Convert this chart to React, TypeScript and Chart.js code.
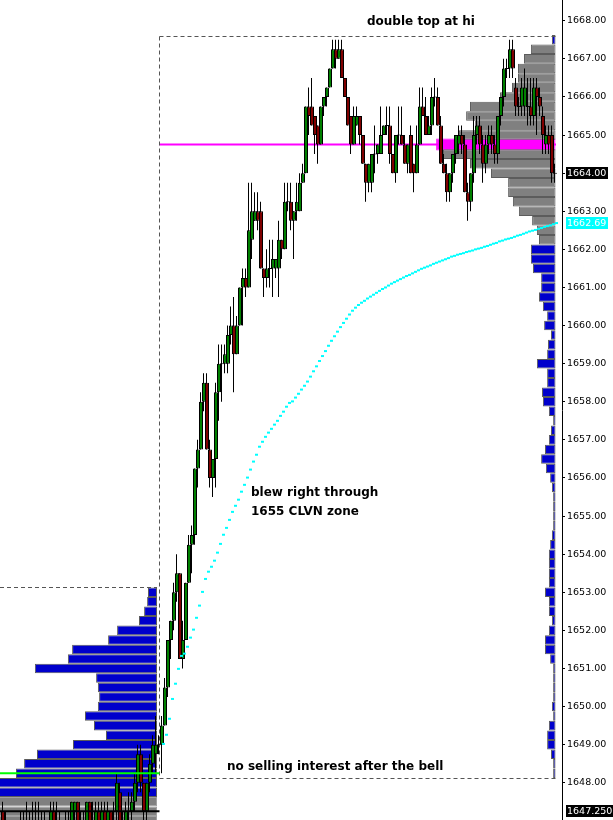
import { useEffect, useRef } from 'react';
import { Chart, registerables } from 'chart.js';

Chart.register(...registerables);

// ---------- data ----------
// time slots: one candle per slot, first candle sits at slot FIRST_SLOT
const FIRST_SLOT = -53;
// [open, high, low, close]
const CANDLES: [number, number, number, number][] = [
  [1647.25, 1647.5, 1646.75, 1647.0], [1647.0, 1647.25, 1646.5, 1646.75], [1646.75, 1647.0, 1646.5, 1646.75],
  [1646.75, 1647.0, 1646.5, 1646.5], [1646.5, 1647.0, 1646.25, 1646.75], [1646.75, 1647.0, 1646.5, 1646.75],
  [1646.75, 1647.25, 1646.5, 1647.0], [1647.0, 1647.25, 1646.75, 1646.75], [1646.75, 1647.5, 1646.5, 1647.0],
  [1647.0, 1647.25, 1646.75, 1646.75], [1646.75, 1647.5, 1646.5, 1647.0], [1647.0, 1647.5, 1646.75, 1646.75],
  [1646.75, 1647.5, 1646.5, 1647.0], [1647.0, 1647.25, 1646.75, 1647.0], [1647.0, 1647.25, 1646.5, 1646.75],
  [1646.75, 1647.0, 1646.5, 1646.75], [1646.75, 1647.5, 1646.5, 1647.25], [1647.25, 1647.5, 1646.75, 1647.0],
  [1647.0, 1647.5, 1646.75, 1647.0], [1647.0, 1647.25, 1646.75, 1646.75], [1646.75, 1647.0, 1646.5, 1646.75],
  [1646.75, 1647.25, 1646.5, 1647.0], [1647.0, 1647.25, 1646.75, 1647.0], [1646.75, 1647.5, 1646.5, 1647.5],
  [1647.25, 1647.5, 1647.0, 1647.5], [1647.5, 1647.5, 1647.0, 1647.0], [1647.0, 1647.25, 1646.75, 1647.0],
  [1647.0, 1647.25, 1646.75, 1647.0], [1647.0, 1647.5, 1646.75, 1647.5], [1647.5, 1647.5, 1646.75, 1647.0],
  [1647.0, 1647.5, 1646.75, 1647.0], [1647.0, 1647.5, 1646.75, 1647.25], [1647.25, 1647.5, 1646.75, 1647.0],
  [1647.0, 1647.5, 1646.75, 1647.25], [1647.25, 1647.5, 1646.75, 1647.0], [1647.0, 1647.5, 1646.75, 1647.25],
  [1647.25, 1647.25, 1646.75, 1647.0], [1647.0, 1647.5, 1646.75, 1647.0], [1647.25, 1648.25, 1647.0, 1648.0],
  [1647.75, 1648.0, 1646.75, 1647.0], [1647.0, 1647.25, 1646.75, 1647.0], [1647.0, 1647.5, 1646.75, 1647.25],
  [1647.25, 1647.75, 1647.0, 1647.25], [1647.25, 1647.75, 1647.0, 1647.5], [1647.5, 1648.25, 1647.25, 1648.0],
  [1648.0, 1649.0, 1647.75, 1648.75], [1648.75, 1649.0, 1647.75, 1648.0], [1648.0, 1648.0, 1647.0, 1647.25],
  [1647.25, 1648.0, 1647.0, 1648.0], [1648.0, 1648.75, 1647.75, 1648.5], [1648.5, 1649.25, 1648.25, 1649.0],
  [1648.75, 1649.75, 1648.25, 1649.0], [1649.0, 1649.25, 1648.75, 1649.0],
  // session
  [1649.0, 1649.75, 1648.25, 1649.5], [1649.5, 1650.75, 1649.5, 1650.5], [1650.5, 1651.75, 1650.25, 1651.75],
  [1651.75, 1652.25, 1651.25, 1652.25], [1652.25, 1653.25, 1652.0, 1653.0], [1653.0, 1654.0, 1652.75, 1653.5],
  [1653.5, 1653.5, 1651.25, 1651.25], [1651.25, 1652.25, 1651.0, 1651.75], [1651.75, 1653.25, 1651.75, 1653.25],
  [1653.25, 1654.5, 1653.25, 1654.25], [1654.25, 1654.75, 1653.5, 1654.5], [1654.5, 1656.25, 1654.25, 1656.25],
  [1656.25, 1657.0, 1655.75, 1656.75], [1656.75, 1658.25, 1656.75, 1658.0], [1658.0, 1658.75, 1657.75, 1658.5],
  [1658.5, 1658.75, 1656.75, 1656.75], [1656.75, 1657.0, 1655.75, 1656.0], [1656.0, 1656.5, 1655.5, 1656.5],
  [1656.5, 1658.5, 1655.75, 1658.25], [1658.25, 1659.5, 1657.5, 1659.0], [1659.0, 1659.5, 1658.0, 1659.0],
  [1659.0, 1659.5, 1658.75, 1659.25], [1659.0, 1660.0, 1658.75, 1659.75], [1659.75, 1660.5, 1659.5, 1660.0],
  [1660.0, 1660.75, 1658.25, 1659.25], [1659.25, 1660.25, 1659.25, 1660.0], [1660.0, 1661.0, 1660.0, 1661.0],
  [1661.0, 1661.5, 1660.0, 1661.25], [1661.25, 1661.5, 1660.75, 1661.0], [1661.0, 1663.75, 1661.0, 1662.5],
  [1662.25, 1663.75, 1661.75, 1663.0], [1662.75, 1663.5, 1662.75, 1663.0], [1663.0, 1663.5, 1662.5, 1662.75],
  [1663.0, 1663.25, 1661.5, 1661.5], [1661.5, 1661.5, 1660.75, 1661.25], [1661.25, 1662.0, 1661.0, 1661.5],
  [1661.5, 1662.25, 1661.0, 1661.5], [1661.5, 1662.25, 1660.75, 1661.75], [1661.5, 1661.75, 1661.25, 1661.75],
  [1661.5, 1662.75, 1660.75, 1662.25], [1662.25, 1662.25, 1661.75, 1662.0], [1662.0, 1663.75, 1662.0, 1663.25],
  [1663.25, 1663.75, 1663.0, 1663.25], [1663.25, 1663.75, 1662.5, 1662.75], [1662.75, 1663.0, 1661.75, 1663.0],
  [1663.0, 1663.75, 1662.75, 1663.25], [1663.0, 1664.0, 1663.0, 1663.75], [1663.75, 1664.25, 1663.75, 1664.0],
  [1664.0, 1665.75, 1664.0, 1665.75], [1665.75, 1666.25, 1665.0, 1665.5], [1665.75, 1666.5, 1665.25, 1665.25],
  [1665.5, 1665.5, 1664.5, 1665.0], [1665.25, 1665.25, 1664.25, 1664.75], [1664.75, 1665.75, 1664.75, 1665.75],
  [1665.75, 1666.0, 1665.5, 1666.0], [1666.0, 1666.25, 1665.75, 1666.25], [1666.25, 1666.75, 1666.25, 1666.75],
  [1666.75, 1667.5, 1666.75, 1667.25], [1667.25, 1667.5, 1666.75, 1667.0], [1667.0, 1667.5, 1667.0, 1667.25],
  [1667.25, 1667.5, 1666.5, 1666.5], [1666.5, 1666.5, 1666.0, 1666.0], [1666.0, 1666.0, 1665.25, 1665.25],
  [1665.5, 1665.5, 1664.5, 1664.75], [1664.75, 1665.75, 1664.75, 1665.5], [1665.25, 1665.75, 1665.25, 1665.5],
  [1665.5, 1665.5, 1664.75, 1665.0], [1665.0, 1665.0, 1664.25, 1664.25], [1664.25, 1664.25, 1663.25, 1663.75],
  [1663.75, 1664.25, 1663.5, 1664.25], [1663.75, 1664.5, 1663.5, 1664.5], [1664.5, 1665.25, 1664.0, 1664.5],
  [1664.5, 1664.75, 1664.25, 1664.75], [1664.5, 1665.75, 1664.5, 1665.0], [1665.0, 1665.25, 1665.0, 1665.25],
  [1665.25, 1665.75, 1665.0, 1665.25], [1665.25, 1665.75, 1664.25, 1664.5], [1664.5, 1664.5, 1664.0, 1664.0],
  [1664.0, 1665.0, 1663.75, 1665.0], [1665.0, 1665.75, 1664.75, 1665.0], [1665.0, 1665.75, 1664.75, 1664.75],
  [1664.75, 1665.0, 1664.25, 1664.25], [1664.25, 1664.75, 1664.0, 1664.75], [1665.0, 1665.25, 1664.0, 1664.0],
  [1664.25, 1664.25, 1663.5, 1664.0], [1664.0, 1665.25, 1664.0, 1664.75], [1664.75, 1666.25, 1664.75, 1665.75],
  [1665.75, 1666.25, 1665.5, 1665.5], [1665.5, 1666.0, 1665.0, 1665.0], [1665.0, 1665.5, 1665.0, 1665.25],
  [1665.25, 1666.25, 1665.0, 1666.0], [1666.0, 1666.5, 1665.75, 1666.0], [1666.0, 1666.25, 1665.25, 1665.25],
  [1665.25, 1665.5, 1664.25, 1664.25], [1664.25, 1664.5, 1664.0, 1664.0], [1664.0, 1664.25, 1663.25, 1663.5],
  [1663.5, 1664.0, 1663.25, 1664.0], [1664.0, 1664.5, 1663.75, 1664.5], [1664.5, 1665.0, 1664.25, 1665.0],
  [1664.75, 1665.25, 1664.5, 1665.0], [1665.0, 1665.25, 1664.5, 1664.75], [1664.75, 1665.0, 1663.5, 1663.5],
  [1663.5, 1663.75, 1662.75, 1663.25], [1663.25, 1664.0, 1663.0, 1664.0], [1664.0, 1665.5, 1663.75, 1665.0],
  [1665.0, 1665.5, 1664.75, 1665.25], [1665.25, 1665.5, 1664.5, 1664.75], [1664.75, 1665.0, 1663.75, 1664.25],
  [1664.25, 1665.0, 1664.0, 1664.75], [1664.75, 1665.25, 1664.5, 1665.0], [1665.0, 1665.25, 1664.5, 1664.75],
  [1664.75, 1665.0, 1664.25, 1664.5], [1664.5, 1665.5, 1664.25, 1665.5], [1665.5, 1666.0, 1665.25, 1666.0],
  [1666.0, 1667.0, 1665.75, 1666.75], [1666.75, 1667.0, 1666.5, 1666.75], [1666.75, 1667.5, 1666.5, 1667.25],
  [1667.25, 1667.5, 1666.5, 1666.75], [1666.25, 1666.5, 1665.5, 1665.75], [1665.75, 1666.0, 1665.5, 1665.75],
  [1665.75, 1666.5, 1665.5, 1666.25], [1665.75, 1666.75, 1665.5, 1666.25], [1665.75, 1666.5, 1665.25, 1665.75],
  [1665.75, 1666.5, 1665.25, 1665.5], [1665.5, 1666.5, 1665.25, 1666.25], [1666.25, 1666.5, 1665.0, 1666.0],
  [1666.0, 1666.25, 1665.5, 1665.75], [1665.5, 1665.75, 1664.5, 1665.0], [1664.75, 1665.25, 1664.5, 1665.0],
  [1665.0, 1665.25, 1664.5, 1664.75], [1665.0, 1665.25, 1663.75, 1664.0], [1664.0, 1664.25, 1663.75, 1664.0],
];

// session VWAP, one value per session candle starting at slot 0
const VWAP_FIRST_SLOT = 0;
const VWAP = [
  1649.02, 1649.26, 1649.68, 1650.2, 1650.6, 1650.99, 1651.33, 1651.39, 1651.57, 1651.81,
  1652.02, 1652.33, 1652.65, 1653.01, 1653.35, 1653.54, 1653.67, 1653.83, 1654.04, 1654.27,
  1654.51, 1654.69, 1654.9, 1655.11, 1655.27, 1655.43, 1655.64, 1655.82, 1656.01, 1656.22,
  1656.43, 1656.61, 1656.82, 1656.95, 1657.08, 1657.19, 1657.29, 1657.4, 1657.5, 1657.63,
  1657.74, 1657.87, 1657.97, 1658.01, 1658.11, 1658.21, 1658.32, 1658.42, 1658.53, 1658.66,
  1658.8, 1658.93, 1659.07, 1659.2, 1659.33, 1659.47, 1659.6, 1659.72, 1659.84, 1659.96,
  1660.07, 1660.18, 1660.29, 1660.39, 1660.47, 1660.54, 1660.6, 1660.65, 1660.71, 1660.76,
  1660.81, 1660.86, 1660.91, 1660.96, 1661.0, 1661.05, 1661.1, 1661.14, 1661.18, 1661.22,
  1661.26, 1661.3, 1661.33, 1661.37, 1661.41, 1661.45, 1661.49, 1661.52, 1661.55, 1661.58,
  1661.62, 1661.65, 1661.68, 1661.71, 1661.74, 1661.77, 1661.81, 1661.83, 1661.86, 1661.88,
  1661.9, 1661.93, 1661.95, 1661.97, 1662.0, 1662.02, 1662.04, 1662.07, 1662.09, 1662.12,
  1662.15, 1662.17, 1662.21, 1662.23, 1662.26, 1662.28, 1662.3, 1662.33, 1662.36, 1662.38,
  1662.41, 1662.44, 1662.47, 1662.49, 1662.51, 1662.54, 1662.56, 1662.59, 1662.61, 1662.63,
  1662.66, 1662.69,
];

// volume profiles: [price, volume]
const RIGHT_VALUE_AREA: [number, number][] = [
  [1667.25, 8.2], [1667.0, 10.5], [1666.75, 12.5], [1666.5, 12.5], [1666.25, 14.5], [1666.0, 18.5],
  [1665.75, 28.5], [1665.5, 29.8], [1665.25, 26.8], [1665.0, 32.2], [1664.5, 37.5], [1664.25, 28.5],
  [1664.0, 21.5], [1663.75, 15.8], [1663.5, 15.8], [1663.25, 14.2], [1663.0, 12.2], [1662.75, 7.8],
  [1662.5, 6.2], [1662.25, 5.5],
];
const RIGHT_POC: [number, number][] = [[1664.75, 39.8]];
const RIGHT_OUTSIDE: [number, number][] = [
  [1667.5, 1.2], [1662.0, 8.2], [1661.75, 8.2], [1661.5, 7.5], [1661.25, 4.8], [1661.0, 4.8],
  [1660.75, 5.5], [1660.5, 4.2], [1660.25, 2.8], [1660.0, 3.8], [1659.75, 1.5], [1659.5, 2.5],
  [1659.25, 2.8], [1659.0, 6.2], [1658.75, 2.8], [1658.5, 2.8], [1658.25, 4.5], [1658.0, 4.2],
  [1657.75, 2.2], [1657.5, 0.8], [1657.25, 1.5], [1657.0, 2.2], [1656.75, 3.5], [1656.5, 4.8],
  [1656.25, 3.2], [1656.0, 1.8], [1655.75, 1.2], [1655.5, 0.8], [1655.25, 0.8], [1655.0, 0.8],
  [1654.75, 0.8], [1654.5, 1.2], [1654.25, 1.8], [1654.0, 2.2], [1653.75, 2.2], [1653.5, 2.2],
  [1653.25, 2.2], [1653.0, 3.5], [1652.75, 2.2], [1652.5, 2.2], [1652.25, 1.2], [1652.0, 2.2],
  [1651.75, 3.5], [1651.5, 3.5], [1651.25, 1.8], [1651.0, 0.8], [1650.75, 0.8], [1650.5, 0.8],
  [1650.25, 0.8], [1650.0, 1.2], [1649.75, 0.8], [1649.5, 2.2], [1649.25, 2.8], [1649.0, 2.8],
  [1648.75, 1.5], [1648.5, 0.8], [1648.25, 0.8],
];
const LEFT_OUTSIDE: [number, number][] = [
  [1653.0, 3.0], [1652.75, 3.3], [1652.5, 4.3], [1652.25, 6.0], [1652.0, 13.3], [1651.75, 16.3],
  [1651.5, 28.3], [1651.25, 29.7], [1651.0, 40.7], [1650.75, 20.3], [1650.5, 19.7], [1650.25, 19.3],
  [1650.0, 19.7], [1649.75, 24.0], [1649.5, 21.0], [1649.25, 17.0], [1649.0, 28.0], [1648.75, 40.0],
  [1648.5, 44.3], [1648.25, 47.0], [1648.0, 62], [1647.75, 62],
];
const LEFT_VALUE_AREA: [number, number][] = [[1647.5, 62], [1647.25, 62], [1647.0, 62]];

const AXIS_TICKS = [
  1648, 1649, 1650, 1651, 1652, 1653, 1654, 1655, 1656, 1657, 1658,
  1659, 1660, 1661, 1662, 1663, 1664, 1665, 1666, 1667, 1668,
];

const SESSION_START = -0.833;
const SESSION_END = 131.33;
const SESSION_HIGH = 1667.587;
const SESSION_LOW = 1648.112;
const PREV_BOX_TOP = 1653.125;
const PREV_PROFILE_END = -1.67;
const POC_PRICE = 1664.75;
const GREEN_LEVEL = 1648.25;
const BLACK_LEVEL = 1647.25;
const LAST_PRICE = 1664.0;
const VWAP_LAST = 1662.69;
const OTHER_LAST = 1647.25;

const NOTES = [
  { text: 'double top at hi', slot: 68.33, price: 1667.889 },
  { text: 'blew right through', slot: 29.67, price: 1655.527 },
  { text: '1655 CLVN zone', slot: 29.67, price: 1655.03 },
  { text: 'no selling interest after the bell', slot: 21.67, price: 1648.34 },
];

// ---------- view ----------
const X_MIN = -54;
const X_MAX = 133.33;
const Y_MAX = 1668.545;
const Y_MIN = 1647.023;

const GREEN = '#008000';
const RED = '#800000';
const BLUE = '#0000CC';
const GRAY = '#808080';
const EDGE = '#5c5c5c';

function profileDataset(rows: [number, number][], anchor: number, color: string, border: string, thick: number) {
  return {
    type: 'bar' as const,
    indexAxis: 'y' as const,
    data: rows.map(([p, v]) => ({ y: p, x: [anchor - v, anchor] })),
    backgroundColor: color,
    borderColor: border,
    borderWidth: 1,
    borderSkipped: false,
    barThickness: thick,
    grouped: false,
    inflateAmount: 0,
    order: 20,
  };
}

function lineDataset(points: { x: number; y: number }[], color: string, width: number, dash: number[], order: number) {
  return {
    type: 'line' as const,
    data: points,
    borderColor: color,
    borderWidth: width,
    borderDash: dash,
    pointRadius: 0,
    pointHoverRadius: 0,
    fill: false,
    tension: 0,
    order,
  };
}

export default function App() {
  const ref = useRef<HTMLCanvasElement>(null);

  useEffect(() => {
    const slots = CANDLES.map((_, i) => FIRST_SLOT + i);
    const bodies = CANDLES.map((c, i) => ({
      x: slots[i],
      y: c[0] === c[3] ? [c[0] - 0.013, c[0] + 0.013] : [c[0], c[3]],
    }));
    const bodyColors = CANDLES.map((c) => (c[3] > c[0] ? GREEN : c[3] < c[0] ? RED : '#000'));
    const wicks = CANDLES.map((c, i) => ({ x: slots[i] - 1 / 6, y: [c[2], c[1]] }));
    const vwapPts = VWAP.map((v, i) => ({ x: VWAP_FIRST_SLOT + i + 0.5, y: v }));

    const RIGHT_ANCHOR = 131.17;

    const overlay = {
      id: 'overlay',
      afterDraw(chart: any) {
        const { ctx, chartArea } = chart;
        const xs = chart.scales.x;
        const ys = chart.scales.y;
        ctx.save();
        ctx.fillStyle = '#000';
        ctx.font = 'bold 12px "DejaVu Sans"';
        ctx.textBaseline = 'alphabetic';
        ctx.textAlign = 'left';
        NOTES.forEach((n) => ctx.fillText(n.text, xs.getPixelForValue(n.slot), ys.getPixelForValue(n.price)));

        const box = (price: number, text: string, bg: string, w: number) => {
          const py = Math.round(ys.getPixelForValue(price));
          const left = chartArea.right + 4;
          ctx.fillStyle = bg;
          ctx.fillRect(left, py - 6, w, 12);
          ctx.fillStyle = '#fff';
          ctx.font = '9.5px "DejaVu Sans"';
          ctx.textBaseline = 'middle';
          ctx.fillText(text, left + 1, py + 0.5);
        };
        box(LAST_PRICE, LAST_PRICE.toFixed(2), '#000', 42);
        box(VWAP_LAST, VWAP_LAST.toFixed(2), '#00FFFF', 42);
        box(OTHER_LAST, OTHER_LAST.toFixed(3), '#000', 50);
        ctx.restore();
      },
    };

    const chart = new Chart(ref.current as HTMLCanvasElement, {
      type: 'bar',
      data: {
        datasets: [
          profileDataset(LEFT_OUTSIDE, PREV_PROFILE_END, BLUE, EDGE, 9.525),
          profileDataset(LEFT_VALUE_AREA, PREV_PROFILE_END, GRAY, '#a0a0a0', 9.525),
          profileDataset(RIGHT_VALUE_AREA, RIGHT_ANCHOR, GRAY, EDGE, 9.525),
          profileDataset(RIGHT_OUTSIDE, RIGHT_ANCHOR, BLUE, EDGE, 9.525),
          profileDataset(RIGHT_POC, RIGHT_ANCHOR, '#FF00FF', '#FF00FF', 12),
          lineDataset([{ x: SESSION_START, y: POC_PRICE }, { x: SESSION_END, y: POC_PRICE }], '#FF00FF', 2, [], 15),
          lineDataset([{ x: SESSION_START, y: SESSION_HIGH }, { x: SESSION_END, y: SESSION_HIGH }], '#555', 1, [4, 3], 14),
          lineDataset([{ x: SESSION_START, y: SESSION_HIGH }, { x: SESSION_START, y: SESSION_LOW }], '#555', 1, [4, 3], 14),
          lineDataset([{ x: SESSION_START, y: SESSION_LOW }, { x: SESSION_END, y: SESSION_LOW }], '#555', 1, [4, 3], 14),
          lineDataset([{ x: X_MIN, y: PREV_BOX_TOP }, { x: PREV_PROFILE_END, y: PREV_BOX_TOP }], '#555', 1, [4, 3], 14),
          {
            type: 'bar' as const,
            data: wicks,
            backgroundColor: '#000',
            borderWidth: 0,
            barThickness: 1,
            grouped: false,
            inflateAmount: 0,
            order: 6,
          },
          {
            type: 'bar' as const,
            data: bodies,
            backgroundColor: bodyColors,
            borderColor: '#000',
            borderWidth: 1,
            borderSkipped: false,
            barThickness: 4,
            grouped: false,
            inflateAmount: 0,
            order: 5,
          },
          {
            type: 'line' as const,
            data: vwapPts,
            showLine: false,
            pointStyle: 'line',
            pointRadius: 1.5,
            pointHoverRadius: 0,
            pointBorderWidth: 2,
            pointBorderColor: '#00FFFF',
            pointBackgroundColor: '#00FFFF',
            order: 3,
          },
          lineDataset([{ x: X_MIN, y: GREEN_LEVEL }, { x: SESSION_START, y: GREEN_LEVEL }], '#00FF00', 2, [], 2),
          lineDataset([{ x: X_MIN, y: BLACK_LEVEL }, { x: SESSION_START, y: BLACK_LEVEL }], '#000', 2, [], 2),
        ] as any,
      },
      options: {
        animation: false,
        responsive: false,
        maintainAspectRatio: false,
        devicePixelRatio: 1,
        layout: { padding: 0, autoPadding: false },
        events: [],
        plugins: { legend: { display: false }, tooltip: { enabled: false } },
        scales: {
          x: {
            type: 'linear',
            min: X_MIN,
            max: X_MAX,
            offset: false,
            display: false,
            grid: { display: false, offset: false },
          },
          y: {
            type: 'linear',
            position: 'right',
            min: Y_MIN,
            max: Y_MAX,
            offset: false,
            afterBuildTicks: (s: any) => {
              s.ticks = AXIS_TICKS.map((v) => ({ value: v }));
            },
            afterFit: (s: any) => {
              s.width = 51;
              s.paddingTop = 0;
              s.paddingBottom = 0;
            },
            grid: { offset: false, drawOnChartArea: false, drawTicks: true, tickLength: 3, color: '#000', tickColor: '#000' },
            border: { display: true, color: '#000', width: 1 },
            ticks: {
              autoSkip: false,
              padding: 2,
              color: '#000',
              font: { family: 'DejaVu Sans', size: 9.5 },
              callback: (v: any) => Number(v).toFixed(2),
            },
          },
        },
      } as any,
      plugins: [overlay],
    });
    return () => chart.destroy();
  }, []);

  return (
    <div style={{ position: 'fixed', left: 0, top: 0, width: 613, height: 820, background: '#fff' }}>
      <canvas ref={ref} width={613} height={820} style={{ display: 'block' }} />
    </div>
  );
}
